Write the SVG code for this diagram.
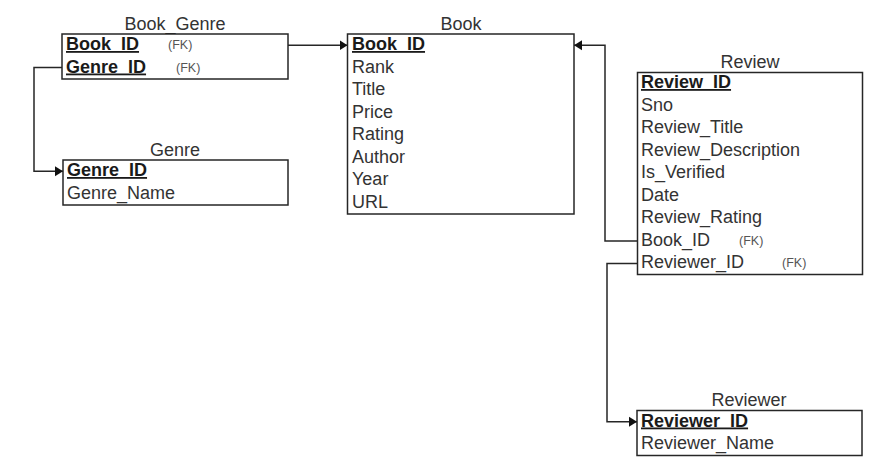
<svg xmlns="http://www.w3.org/2000/svg" width="892" height="472" viewBox="0 0 892 472">
<defs>
<style>
.box{fill:#fff;stroke:#262626;stroke-width:1.5}
text{font-family:"Liberation Sans",Arial,sans-serif;font-size:18px;fill:#333}
.title{text-anchor:middle}
.pk{font-weight:bold;fill:#1a1a1a;text-decoration:underline}
.fk{font-size:12.5px;fill:#555}
.conn{fill:none;stroke:#262626;stroke-width:1.5}
</style>
<marker id="arr" markerUnits="userSpaceOnUse" markerWidth="9" markerHeight="11" refX="8" refY="5.5" orient="auto">
<path d="M0,0.5 L8,5.5 L0,10.5 Z" fill="#111"/>
</marker>
</defs>
<rect width="892" height="472" fill="#fff"/>

<g id="connectors">
<path class="conn" d="M288,45.25 L347.5,45.25" marker-end="url(#arr)"/>
<path class="conn" d="M62,67.5 L34,67.5 L34,171.25 L63,171.25" marker-end="url(#arr)"/>
<path class="conn" d="M637.5,241 L605,241 L605,45.25 L574,45.25" marker-end="url(#arr)"/>
<path class="conn" d="M637.5,263.5 L607,263.5 L607,421.75 L637,421.75" marker-end="url(#arr)"/>
</g>

<g id="book_genre">
<text class="title" x="175" y="30">Book_Genre</text>
<rect class="box" x="62" y="34" width="226" height="45"/>
<text class="pk" x="66" y="50">Book_ID</text>
<text class="fk" x="168" y="49">(FK)</text>
<text class="pk" x="66" y="72.5">Genre_ID</text>
<text class="fk" x="176" y="71.5">(FK)</text>
</g>

<g id="genre">
<text class="title" x="175" y="156">Genre</text>
<rect class="box" x="63" y="160" width="225" height="45"/>
<text class="pk" x="67" y="176">Genre_ID</text>
<text x="67" y="198.5">Genre_Name</text>
</g>

<g id="book">
<text class="title" x="461" y="30">Book</text>
<rect class="box" x="347.5" y="34" width="226.5" height="180"/>
<text class="pk" x="352" y="50">Book_ID</text>
<text x="352" y="72.5">Rank</text>
<text x="352" y="95">Title</text>
<text x="352" y="117.5">Price</text>
<text x="352" y="140">Rating</text>
<text x="352" y="162.5">Author</text>
<text x="352" y="185">Year</text>
<text x="352" y="207.5">URL</text>
</g>

<g id="review">
<text class="title" x="750" y="68">Review</text>
<rect class="box" x="637.5" y="72.5" width="225" height="202"/>
<text class="pk" x="641" y="88">Review_ID</text>
<text x="641" y="110.5">Sno</text>
<text x="641" y="133">Review_Title</text>
<text x="641" y="155.5">Review_Description</text>
<text x="641" y="178">Is_Verified</text>
<text x="641" y="200.5">Date</text>
<text x="641" y="223">Review_Rating</text>
<text x="641" y="245.5">Book_ID</text>
<text class="fk" x="739" y="244.5">(FK)</text>
<text x="641" y="268">Reviewer_ID</text>
<text class="fk" x="782" y="267">(FK)</text>
</g>

<g id="reviewer">
<text class="title" x="749" y="406">Reviewer</text>
<rect class="box" x="637" y="410.5" width="225" height="45"/>
<text class="pk" x="641" y="426.5">Reviewer_ID</text>
<text x="641" y="449">Reviewer_Name</text>
</g>
</svg>
